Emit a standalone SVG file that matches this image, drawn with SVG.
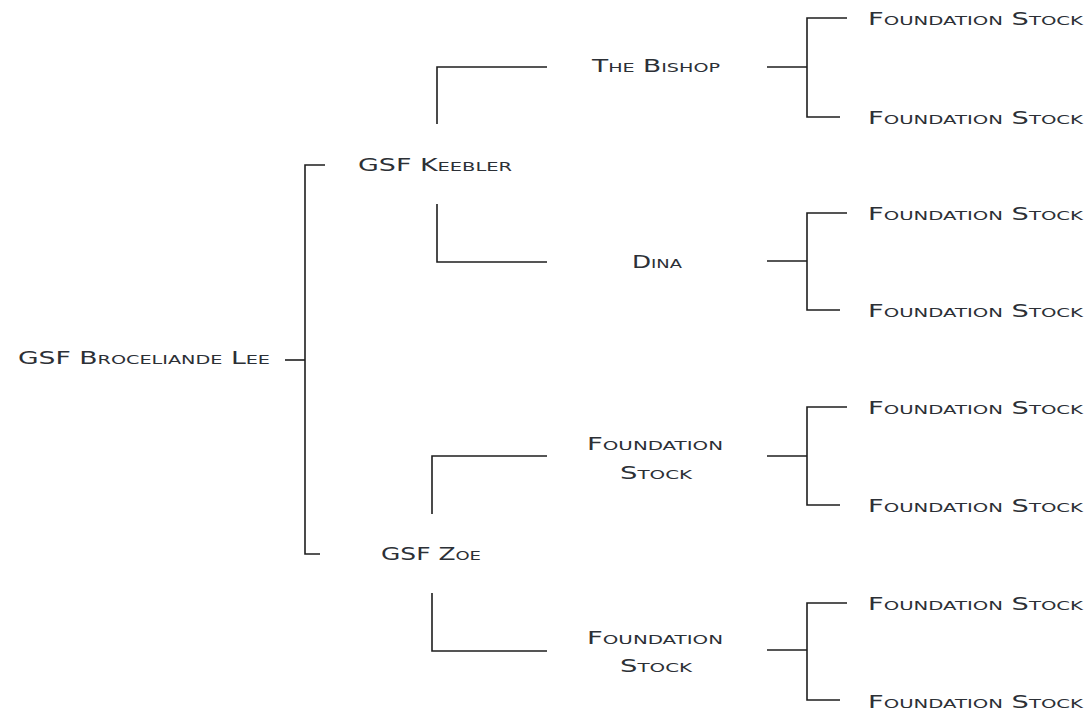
<svg xmlns="http://www.w3.org/2000/svg" width="1091" height="712" viewBox="0 0 1091 712">
<style>
  text { font-family: "DejaVu Sans", "Liberation Sans", sans-serif; font-size: 18px; font-variant: small-caps; fill: #2c3036; }
  .c path { fill: none; stroke: #1e1e1e; stroke-width: 1.6; }
</style>
<rect width="1091" height="712" fill="#ffffff"/>
<g class="c" id="connectors">
  <path d="M285 360 H305"/>
  <path d="M325 165 H305 V554 H320"/>
  <path d="M547 67 H437 V124"/>
  <path d="M437 204 V262 H547"/>
  <path d="M547 456 H432 V514"/>
  <path d="M432 593 V651 H547"/>
  <path d="M767 67 H807"/><path d="M847 18 H807 V117 H840"/>
  <path d="M767 261 H807"/><path d="M847 213 H807 V310 H840"/>
  <path d="M767 456 H807"/><path d="M847 407 H807 V505 H840"/>
  <path d="M767 650 H807"/><path d="M847 603 H807 V700 H840"/>
</g>
<g id="root"><text x="18" y="364" textLength="252" lengthAdjust="spacingAndGlyphs">GSF Broceliande Lee</text></g>
<g id="keebler"><text x="358" y="171" textLength="154" lengthAdjust="spacingAndGlyphs">GSF Keebler</text></g>
<g id="zoe"><text x="381" y="560" textLength="100" lengthAdjust="spacingAndGlyphs">GSF Zoe</text></g>
<g id="bishop"><text x="592" y="72" textLength="128" lengthAdjust="spacingAndGlyphs">The Bishop</text></g>
<g id="dina"><text x="632" y="268" textLength="50" lengthAdjust="spacingAndGlyphs">Dina</text></g>
<g id="fs-zoe-1">
  <text x="587" y="450" textLength="136" lengthAdjust="spacingAndGlyphs">Foundation</text>
  <text x="620" y="479" textLength="72" lengthAdjust="spacingAndGlyphs">Stock</text>
</g>
<g id="fs-zoe-2">
  <text x="587" y="644" textLength="136" lengthAdjust="spacingAndGlyphs">Foundation</text>
  <text x="620" y="672" textLength="72" lengthAdjust="spacingAndGlyphs">Stock</text>
</g>
<g id="leaf-1"><text x="868" y="25" textLength="215" lengthAdjust="spacingAndGlyphs">Foundation Stock</text></g>
<g id="leaf-2"><text x="868" y="124" textLength="215" lengthAdjust="spacingAndGlyphs">Foundation Stock</text></g>
<g id="leaf-3"><text x="868" y="220" textLength="215" lengthAdjust="spacingAndGlyphs">Foundation Stock</text></g>
<g id="leaf-4"><text x="868" y="317" textLength="215" lengthAdjust="spacingAndGlyphs">Foundation Stock</text></g>
<g id="leaf-5"><text x="868" y="414" textLength="215" lengthAdjust="spacingAndGlyphs">Foundation Stock</text></g>
<g id="leaf-6"><text x="868" y="512" textLength="215" lengthAdjust="spacingAndGlyphs">Foundation Stock</text></g>
<g id="leaf-7"><text x="868" y="610" textLength="215" lengthAdjust="spacingAndGlyphs">Foundation Stock</text></g>
<g id="leaf-8"><text x="868" y="708" textLength="215" lengthAdjust="spacingAndGlyphs">Foundation Stock</text></g>
</svg>
